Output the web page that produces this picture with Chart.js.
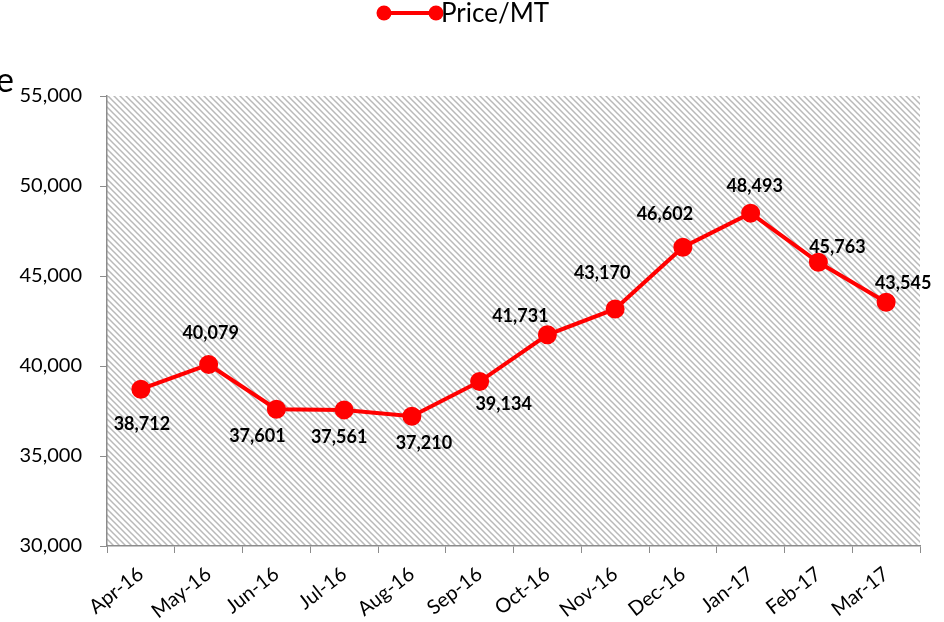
<!DOCTYPE html>
<html>
<head>
<meta charset="utf-8">
<script src="https://cdn.jsdelivr.net/npm/chart.js@4"></script>
<style>
html,body{margin:0;padding:0;background:#fff;}
#wrap{width:944px;height:622px;position:relative;}
</style>
</head>
<body>
<div id="wrap"><canvas id="c" width="944" height="622"></canvas></div>
<script>
const categories = ['Apr-16','May-16','Jun-16','Jul-16','Aug-16','Sep-16','Oct-16','Nov-16','Dec-16','Jan-17','Feb-17','Mar-17'];
const priceValues = [38712, 40079, 37601, 37561, 37210, 39134, 41731, 43170, 46602, 48493, 45763, 43545];
const yTicks = [30000, 35000, 40000, 45000, 50000, 55000];
const seriesName = 'Price/MT';
// data-label offsets from each point (pixels)
const labelShift = [[1,35],[2,-31],[-19,27],[-5,27],[12,27],[24,23],[-27,-19],[-13,-36],[-18,-33],[4,-27],[19,-15],[17,-19]];

const RED = '#ff0000';
const FONT = 'Lato, "Open Sans", sans-serif';

function makeHatch(){
  const p = document.createElement('canvas');
  p.width = 6; p.height = 6;
  const g = p.getContext('2d');
  g.fillStyle = '#ffffff';
  g.fillRect(0,0,6,6);
  g.strokeStyle = '#b9b9b9';
  g.lineWidth = 1.5;
  g.beginPath();
  for (let k=-2;k<=2;k++){
    g.moveTo(k*6-1, -1);
    g.lineTo(k*6+7, 7);
  }
  g.stroke();
  return p;
}

const bgPlugin = {
  id: 'hatchBg',
  beforeDraw(chart){
    const {ctx, chartArea:a} = chart;
    ctx.save();
    ctx.fillStyle = ctx.createPattern(makeHatch(), 'repeat');
    ctx.fillRect(a.left, a.top, a.right-a.left, a.bottom-a.top);
    ctx.restore();
  }
};

const labelPlugin = {
  id: 'pointLabels',
  afterDatasetsDraw(chart){
    const ctx = chart.ctx;
    const meta = chart.getDatasetMeta(0);
    ctx.save();
    ctx.font = 'bold 18px ' + FONT;
    ctx.fillStyle = '#000';
    ctx.textAlign = 'center';
    ctx.textBaseline = 'middle';
    meta.data.forEach((pt, i) => {
      const v = chart.data.datasets[0].data[i];
      const s = labelShift[i];
      ctx.fillText(v.toLocaleString('en-US'), pt.x + s[0], pt.y + s[1]);
    });
    ctx.restore();
  }
};

const legendPlugin = {
  id: 'customLegend',
  afterDraw(chart){
    const ctx = chart.ctx;
    ctx.save();
    const y = 13;
    ctx.strokeStyle = RED; ctx.lineWidth = 4;
    ctx.beginPath(); ctx.moveTo(384, y); ctx.lineTo(436, y); ctx.stroke();
    ctx.fillStyle = RED;
    [384, 436].forEach(x => { ctx.beginPath(); ctx.arc(x, y, 7.5, 0, Math.PI*2); ctx.fill(); });
    ctx.fillStyle = '#000';
    ctx.font = '26px ' + FONT;
    ctx.textBaseline = 'middle';
    ctx.textAlign = 'left';
    ctx.fillText(seriesName, 441, y + 1);
    // clipped axis title fragment at left edge
    ctx.font = '34px ' + FONT;
    ctx.textAlign = 'right';
    ctx.textBaseline = 'alphabetic';
    ctx.fillText('Price', 14, 92);
    ctx.restore();
  }
};

new Chart(document.getElementById('c'), {
  type: 'line',
  data: {
    labels: categories,
    datasets: [{
      label: seriesName,
      data: priceValues,
      borderColor: RED,
      backgroundColor: RED,
      borderWidth: 4,
      pointRadius: 7.5,
      pointHoverRadius: 7.5,
      pointBackgroundColor: RED,
      pointBorderColor: RED,
      tension: 0,
      fill: false
    }]
  },
  options: {
    responsive: false,
    animation: false,
    devicePixelRatio: 1,
    layout: { padding: { top: 96, right: 24, left: 0, bottom: 0 } },
    plugins: {
      legend: { display: false },
      tooltip: { enabled: false }
    },
    scales: {
      x: {
        offset: true,
        grid: { display: true, drawOnChartArea: false, drawTicks: true, tickLength: 7, color: '#8c8c8c', offset: true },
        border: { display: true, color: '#8c8c8c', width: 1.5 },
        ticks: { color: '#000', font: { family: FONT, size: 20 }, minRotation: 38, maxRotation: 38, autoSkip: false, padding: 9 },
        afterFit(s){ s.height = 76; }
      },
      y: {
        min: 30000, max: 55000,
        afterBuildTicks(s){ s.ticks = yTicks.map(v => ({value: v})); },
        grid: { display: true, drawOnChartArea: false, drawTicks: true, tickLength: 7, color: '#8c8c8c' },
        border: { display: true, color: '#8c8c8c', width: 1.5 },
        ticks: { color: '#000', font: { family: FONT, size: 20 }, padding: 18,
          callback: v => Number(v).toLocaleString('en-US') },
        afterFit(s){ s.width = 107; }
      }
    }
  },
  plugins: [bgPlugin, labelPlugin, legendPlugin]
});
</script>
</body>
</html>
